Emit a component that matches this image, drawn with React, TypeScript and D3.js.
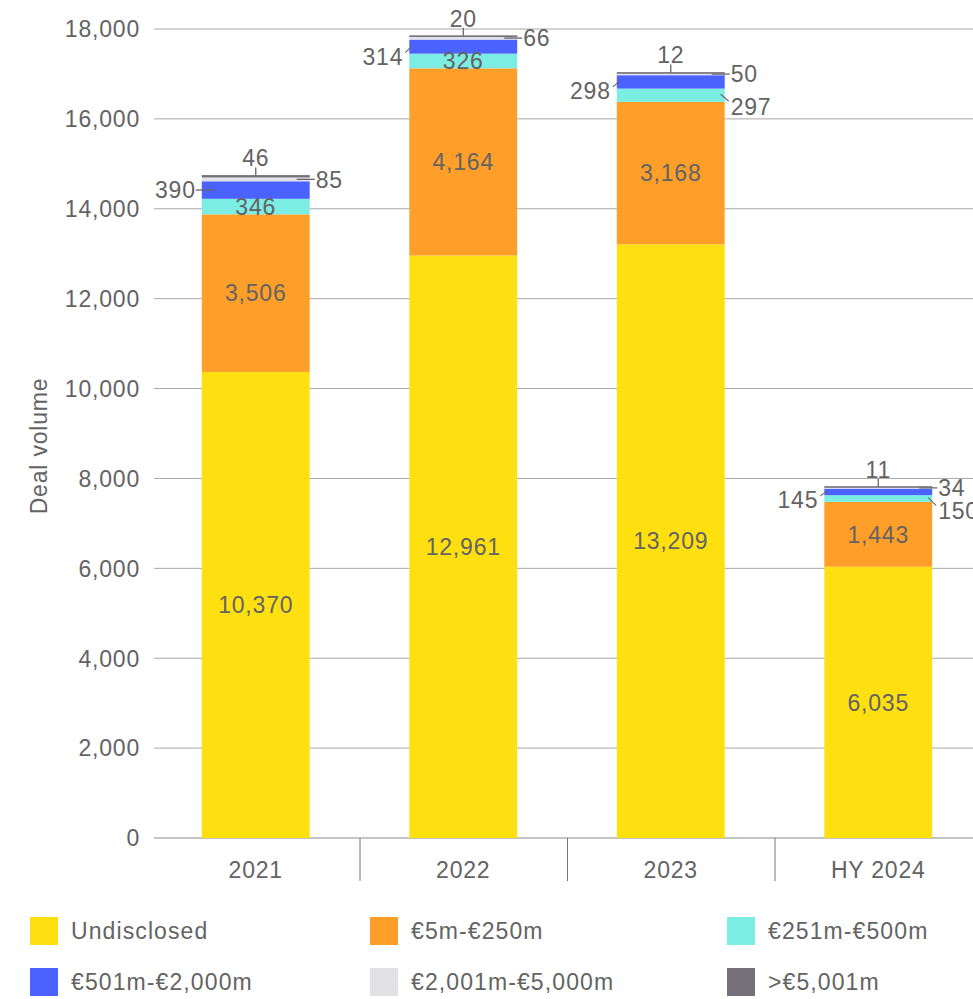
import React from "react";
import * as d3 from "d3";

const categories = ["2021", "2022", "2023", "HY 2024"];
const seriesNames = ["Undisclosed", "€5m-€250m", "€251m-€500m", "€501m-€2,000m", "€2,001m-€5,000m", ">€5,001m"];
const seriesColors = ["#FEE011", "#FF9F29", "#7CEDE3", "#4A62FF", "#E2E2E6", "#757079"];
const undisclosed = [10370, 12961, 13209, 6035];
const m5to250 = [3506, 4164, 3168, 1443];
const m251to500 = [346, 326, 297, 150];
const m501to2000 = [390, 314, 298, 145];
const m2001to5000 = [85, 66, 50, 34];
const over5001 = [46, 20, 12, 11];
const yTicks = [0, 2000, 4000, 6000, 8000, 10000, 12000, 14000, 16000, 18000];

// label placement per category, per series: in | left | right | rightLow | top ; with dy offsets
const placements = [
  [["in", 0], ["in", 0], ["in", 0], ["left", 0], ["right", 0], ["top", 0]],
  [["in", 0], ["in", 0], ["in", 0], ["left", 10], ["right", 0], ["top", 0]],
  [["in", 0], ["in", 0], ["rightLow", 11], ["left", 9], ["right", 0], ["top", 0]],
  [["in", 0], ["in", 0], ["rightLow", 12], ["left", 8], ["right", 0], ["top", 0]],
];

const FONT = "'Liberation Sans', Arial, sans-serif";
const TXT = "#636363";
const FS = 23;
const LS = 0.8;

export default function App() {
  const W = 973, H = 999;
  const series = [undisclosed, m5to250, m251to500, m501to2000, m2001to5000, over5001];
  const x = d3.scaleBand<string>().domain(categories).range([152, 982]);
  const y = d3.scaleLinear().domain([0, 18000]).range([838, 29]);
  const barW = x.bandwidth() * 0.52;
  const fmt = d3.format(",");

  const data = categories.map((c, i) => {
    const row: any = { cat: c };
    seriesNames.forEach((s, j) => (row[s] = series[j][i]));
    return row;
  });
  const stacked = d3.stack().keys(seriesNames)(data);

  const legendCols = [30, 370, 727];
  const legendRows = [931, 982];

  return (
    <svg width={W} height={H} style={{ display: "block", position: "absolute", left: 0, top: 0 }} fontFamily={FONT} letterSpacing={LS}>
      {/* grid */}
      {yTicks.map((t) => (
        <g key={t}>
          <line x1={154} x2={W} y1={y(t)} y2={y(t)} stroke={t === 0 ? "#8a8a8a" : "#a8a8a8"} strokeWidth={1} />
          <text x={140} y={y(t)} dy="0.36em" textAnchor="end" fontSize={FS} fill={TXT}>{fmt(t)}</text>
        </g>
      ))}
      <text transform={`translate(47,446) rotate(-90)`} textAnchor="middle" fontSize={FS} fill={TXT}>Deal volume</text>
      {/* category dividers and labels */}
      {categories.map((c, i) => (
        <g key={c}>
          {i > 0 && <line x1={x(c)! + 0.5} x2={x(c)! + 0.5} y1={838} y2={881} stroke="#777" strokeWidth={1} />}
          <text x={x(c)! + x.bandwidth() / 2} y={870} dy="0.36em" textAnchor="middle" fontSize={FS} fill={TXT}>{c}</text>
        </g>
      ))}
      {/* bars */}
      {stacked.map((layer, j) => (
        <g key={j} fill={seriesColors[j]}>
          {layer.map((d, i) => {
            const cx = x(categories[i])! + x.bandwidth() / 2;
            return <rect key={i} x={cx - barW / 2} width={barW} y={y(d[1])} height={y(d[0]) - y(d[1])} />;
          })}
        </g>
      ))}
      {/* labels */}
      {stacked.map((layer, j) =>
        layer.map((d, i) => {
          const cx = x(categories[i])! + x.bandwidth() / 2;
          const left = cx - barW / 2, right = cx + barW / 2;
          const mid = (y(d[0]) + y(d[1])) / 2;
          const [mode, dy] = placements[i][j] as [string, number];
          const v = fmt(series[j][i]);
          const key = `${i}-${j}`;
          if (mode === "in")
            return <text key={key} x={cx} y={mid} dy="0.36em" textAnchor="middle" fontSize={FS} fill={TXT}>{v}</text>;
          if (mode === "left") {
            const ly = mid + dy;
            return (
              <g key={key}>
                {dy === 0 ? (
                  <line x1={left - 6} x2={left + 12} y1={mid} y2={mid} stroke="#666" strokeWidth={1.3} />
                ) : (
                  <line x1={left - 4} x2={left + 3} y1={ly - 4} y2={mid - 1} stroke="#666" strokeWidth={1.1} />
                )}
                <text x={left - 6} y={ly} dy="0.36em" textAnchor="end" fontSize={FS} fill={TXT}>{v}</text>
              </g>
            );
          }
          if (mode === "right")
            return (
              <g key={key}>
                <line x1={right - 13} x2={right + 5} y1={mid} y2={mid} stroke="#666" strokeWidth={1.3} />
                <text x={right + 6} y={mid} dy="0.36em" textAnchor="start" fontSize={FS} fill={TXT}>{v}</text>
              </g>
            );
          if (mode === "rightLow") {
            const ly = mid + dy;
            return (
              <g key={key}>
                <line x1={right - 4} x2={right + 4} y1={mid - 1} y2={ly - 5} stroke="#666" strokeWidth={1.1} />
                <text x={right + 6} y={ly} dy="0.36em" textAnchor="start" fontSize={FS} fill={TXT}>{v}</text>
              </g>
            );
          }
          const top = y(d[1]);
          return (
            <g key={key}>
              <line x1={left} x2={right} y1={top + 0.5} y2={top + 0.5} stroke="#757079" strokeWidth={1.5} />
              <line x1={cx} x2={cx} y1={top} y2={top - 8} stroke="#666" strokeWidth={1.3} />
              <text x={cx} y={top - 9} textAnchor="middle" fontSize={FS} fill={TXT}>{v}</text>
            </g>
          );
        })
      )}
      {/* legend */}
      {seriesNames.map((s, j) => {
        const lx = legendCols[j % 3];
        const ly = legendRows[Math.floor(j / 3)];
        return (
          <g key={s}>
            <rect x={lx} y={ly - 14} width={28} height={28} fill={seriesColors[j]} />
            <text x={lx + 41} y={ly} dy="0.36em" fontSize={FS} letterSpacing={1.1} fill={TXT}>{s}</text>
          </g>
        );
      })}
    </svg>
  );
}
